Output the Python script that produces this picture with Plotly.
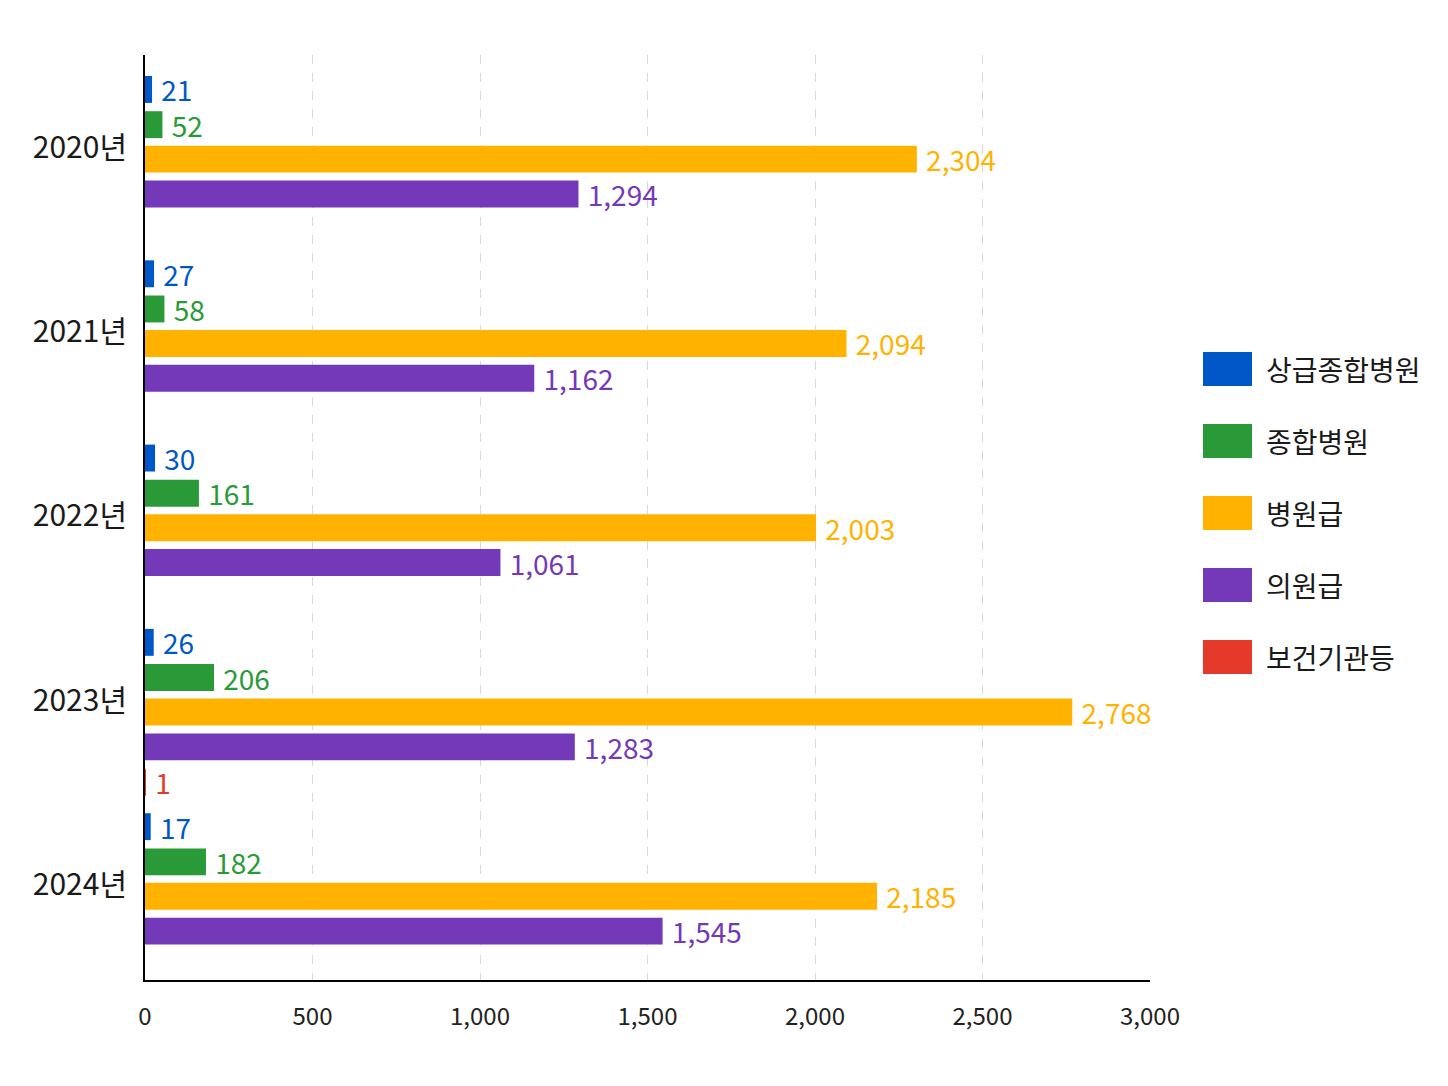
import plotly.graph_objects as go

# 연도별 의료기관 종별 건수
years = ["2020년", "2021년", "2022년", "2023년", "2024년"]
series_names = ["상급종합병원", "종합병원", "병원급", "의원급", "보건기관등"]
series_colors = ["#0057C8", "#2A9A38", "#FFB300", "#7439B8", "#E53A2A"]

tertiary = [21, 27, 30, 26, 17]
general = [52, 58, 161, 206, 182]
hospital = [2304, 2094, 2003, 2768, 2185]
clinic = [1294, 1162, 1061, 1283, 1545]
public_health = [0, 0, 0, 1, 0]

series_values = [tertiary, general, hospital, clinic, public_health]
x_ticks = [0, 500, 1000, 1500, 2000, 2500, 3000]

FONT = "Noto Sans CJK KR, Noto Sans, sans-serif"

# bar slot positions inside each year group (category units)
bar_width = 0.146
bar_offsets = [-0.386, -0.195, -0.008, 0.181, 0.373]

fig = go.Figure()
for name, color, vals, off in zip(series_names, series_colors, series_values, bar_offsets):
    fig.add_trace(
        go.Bar(
            name=name,
            y=years,
            x=vals,
            orientation="h",
            width=bar_width,
            offset=off,
            marker=dict(color=color, line=dict(width=0)),
            text=["\u00a0" + f"{v:,}" if v else "" for v in vals],
            textposition="outside",
            constraintext="none",
            textfont=dict(color=color, size=28, family=FONT),
            cliponaxis=False,
            showlegend=False,
        )
    )

fig.update_layout(
    width=1448,
    height=1086,
    plot_bgcolor="white",
    paper_bgcolor="white",
    barmode="overlay",
    font=dict(family=FONT, size=24, color="#222222"),
    margin=dict(l=137, r=306, t=47, b=114),
)
fig.update_xaxes(
    range=[0, 3000],
    tickvals=x_ticks,
    ticktext=[f"{t:,}" for t in x_ticks],
    showgrid=True,
    gridcolor="#d9d9d9",
    griddash="dash",
    gridwidth=1,
    showline=True,
    linecolor="black",
    linewidth=2,
    zeroline=False,
    ticks="",
    ticklabelstandoff=14,
    tickfont=dict(size=24),
    automargin=False,
)
fig.update_yaxes(
    autorange="reversed",
    showline=True,
    linecolor="black",
    linewidth=2,
    showgrid=False,
    ticks="",
    ticklabelstandoff=10,
    tickfont=dict(size=30, color="#1a1a1a"),
    automargin=False,
)

# legend drawn as big swatches on the right
plot_w = 1005
plot_h = 925
for i, (name, color) in enumerate(zip(series_names, series_colors)):
    yc = 1 - (369 + i * 72 - 55) / plot_h
    fig.add_shape(
        type="rect",
        xref="paper",
        yref="paper",
        x0=(1203 - 145) / plot_w,
        x1=(1252 - 145) / plot_w,
        y0=yc - 17 / plot_h,
        y1=yc + 17 / plot_h,
        fillcolor=color,
        line=dict(width=0),
    )
    fig.add_annotation(
        xref="paper",
        yref="paper",
        x=(1264 - 145) / plot_w,
        y=yc,
        text=name,
        showarrow=False,
        xanchor="left",
        yanchor="middle",
        font=dict(size=28, color="#1a1a1a", family=FONT),
    )

fig.write_html("out.html")
